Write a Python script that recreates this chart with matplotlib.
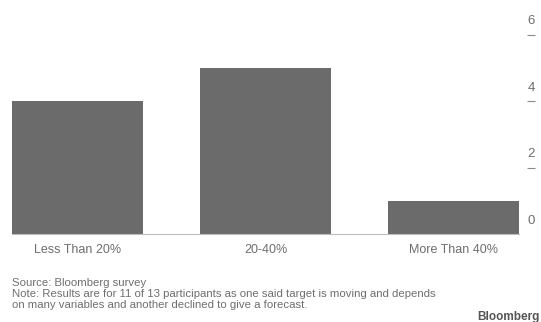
import matplotlib.pyplot as plt
from matplotlib.transforms import ScaledTranslation, blended_transform_factory

# Данные
categories = ['Less Than 20%', '20-40%', 'More Than 40%']
counts = [4, 5, 1]
yticks = [0, 2, 4, 6]

plt.rcParams['font.family'] = ['Liberation Sans Narrow', 'Liberation Sans', 'DejaVu Sans']

fig = plt.figure(figsize=(5.41, 3.22), dpi=100)
ax = fig.add_axes([12 / 541, 88 / 322, 507 / 541, 199 / 322])

x = range(len(categories))
ax.bar(x, counts, width=0.7, color='#6b6b6b', zorder=2)

ax.set_xlim(-0.35, 2.35)
ax.set_ylim(0, 6)

for side in ['top', 'left', 'right']:
    ax.spines[side].set_visible(False)
ax.spines['bottom'].set_color('#bdbdbd')
ax.spines['bottom'].set_linewidth(0.8)

ax.set_xticks(list(x))
ax.set_xticklabels(categories, fontsize=9, color='#6e6e6e')
ax.tick_params(axis='x', length=0, pad=7)

# ось Y справа: чёрточки под подписями (8 px = 5.76 pt)
ax.yaxis.tick_right()
ax.spines['right'].set_position(('outward', 5.76))
ax.set_yticks(yticks[1:])
ax.set_yticklabels([])
ax.tick_params(axis='y', length=5.76, width=0.8, color='#8a8a8a', direction='out')

trans = blended_transform_factory(ax.transAxes, ax.transData)
off = ScaledTranslation(0, 13.5 / 100, fig.dpi_scale_trans)
for t in yticks:
    ax.text(1.0 + 12 / 507, t, str(t), transform=trans + off,
            ha='center', va='center', fontsize=9.5, color='#6e6e6e')

fig.text(12 / 541, 1 - 282.5 / 322, 'Source: Bloomberg survey',
         fontsize=8.2, color='#6e6e6e', va='center')
fig.text(12 / 541, 1 - 294 / 322,
         'Note: Results are for 11 of 13 participants as one said target is moving and depends',
         fontsize=8.2, color='#6e6e6e', va='center')
fig.text(12 / 541, 1 - 305.5 / 322,
         'on many variables and another declined to give a forecast.',
         fontsize=8.2, color='#6e6e6e', va='center')
fig.text(540 / 541, 1 - 317 / 322, 'Bloomberg', fontsize=8.5,
         fontweight='bold', color='#555555', va='center', ha='right')

fig.savefig('out.png', dpi=100)
